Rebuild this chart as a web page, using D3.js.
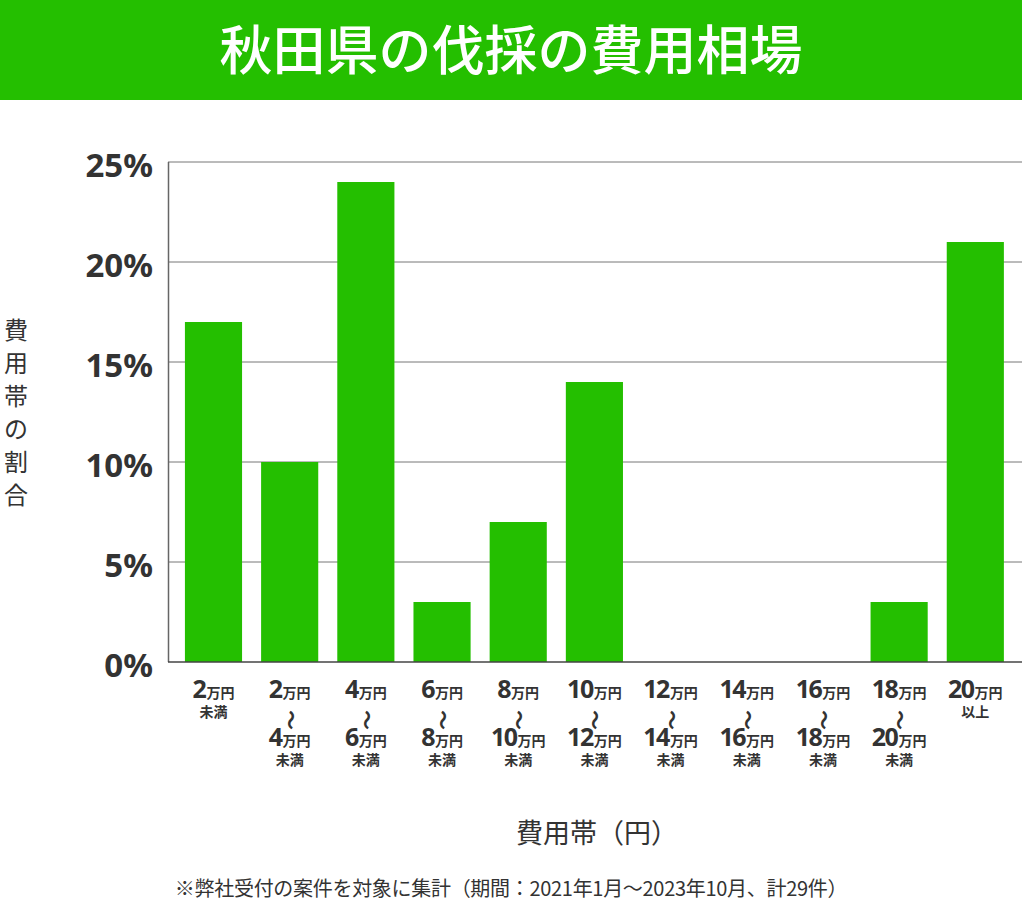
<!DOCTYPE html>
<html><head><meta charset="utf-8">
<script src="https://cdn.jsdelivr.net/npm/d3@7"></script>
<style>body{margin:0;background:#fff}svg{display:block}</style>
</head><body>
<svg id="c" width="1024" height="907"></svg>
<script>
const title = "秋田県の伐採の費用相場";
const lowLabels = ["2", "2", "4", "6", "8", "10", "12", "14", "16", "18", "20"];
const highLabels = [null, "4", "6", "8", "10", "12", "14", "16", "18", "20", null];
const suffixLabels = ["未満", "未満", "未満", "未満", "未満", "未満", "未満", "未満", "未満", "未満", "以上"];
const values = [17, 10, 24, 3, 7, 14, 0, 0, 0, 3, 21];
const yTicks = [0, 5, 10, 15, 20, 25];
const yTitle = ["費", "用", "帯", "の", "割", "合"];
const xTitle = "費用帯（円）";
const footnote = "※弊社受付の案件を対象に集計（期間：2021年1月～2023年10月、計29件）";

const svg = d3.select("#c");
const green = "#24bf00";
const jp = "'Noto Sans CJK JP','Noto Sans',sans-serif";
const num = "'Noto Sans','DejaVu Sans',sans-serif";

svg.append("rect").attr("x",0).attr("y",0).attr("width",1022).attr("height",100).attr("fill",green);
svg.append("text").attr("x",511).attr("y",70).attr("text-anchor","middle")
  .attr("font-family",jp).attr("font-weight",500).attr("font-size",53).attr("fill","#fff").text(title);

const cats = d3.range(values.length);
const x = d3.scaleBand().domain(cats).range([175.4, 1013.4]).paddingInner(0.25).paddingOuter(0.125);
const y = d3.scaleLinear().domain([0,25]).range([662,162]);

// grid
svg.append("g").selectAll("line").data(yTicks.filter(d=>d>0)).join("line")
  .attr("x1",168).attr("x2",1022).attr("y1",d=>y(d)).attr("y2",d=>y(d))
  .attr("stroke","#777").attr("stroke-width",1);

// bars
svg.append("g").selectAll("rect").data(values).join("rect")
  .attr("x",(d,i)=>x(i)).attr("width",x.bandwidth())
  .attr("y",d=>y(d)).attr("height",d=>y(0)-y(d)).attr("fill",green);

// axes lines
svg.append("line").attr("x1",168.5).attr("x2",168.5).attr("y1",y(25)).attr("y2",y(0)).attr("stroke","#666").attr("stroke-width",1.5);
svg.append("line").attr("x1",168).attr("x2",1022).attr("y1",y(0)).attr("y2",y(0)).attr("stroke","#444").attr("stroke-width",1.5);

// y labels
svg.append("g").selectAll("text").data(yTicks).join("text")
  .attr("x",153).attr("y",d=>y(d)+15).attr("text-anchor","end")
  .attr("font-family",num).attr("font-weight","bold").attr("font-size",33).attr("fill","#333")
  .text(d=>d+"%");

// x labels
const xl = svg.append("g").attr("font-family",jp).attr("font-weight","bold").attr("fill","#333");
cats.forEach(i=>{
  const cx = x(i)+x.bandwidth()/2;
  const t1 = xl.append("text").attr("x",cx).attr("y",698).attr("text-anchor","middle");
  t1.append("tspan").attr("font-size",25).attr("font-family",num).attr("letter-spacing",-1.5).text(lowLabels[i]);
  t1.append("tspan").attr("font-size",14).attr("dx",1).text("万円");
  if(highLabels[i]===null){
    xl.append("text").attr("x",cx).attr("y",717).attr("text-anchor","middle").attr("font-size",14).text(suffixLabels[i]);
  } else {
    xl.append("text").attr("transform",`translate(${cx},720) rotate(90)`).attr("text-anchor","middle").attr("dy","0.35em")
      .attr("font-size",20).attr("font-weight","bold").text("〜");
    const t2 = xl.append("text").attr("x",cx).attr("y",746).attr("text-anchor","middle");
    t2.append("tspan").attr("font-size",25).attr("font-family",num).attr("letter-spacing",-1.5).text(highLabels[i]);
    t2.append("tspan").attr("font-size",14).attr("dx",1).text("万円");
    xl.append("text").attr("x",cx).attr("y",765).attr("text-anchor","middle").attr("font-size",14).text(suffixLabels[i]);
  }
});

// y title
svg.append("g").selectAll("text").data(yTitle).join("text")
  .attr("x",16).attr("y",(d,i)=>339+i*33).attr("text-anchor","middle")
  .attr("font-family",jp).attr("font-size",24).attr("fill","#333").text(d=>d);

svg.append("text").attr("x",597).attr("y",843).attr("text-anchor","middle")
  .attr("font-family",jp).attr("font-size",27).attr("fill","#333").text(xTitle);

svg.append("text").attr("x",511).attr("y",896).attr("text-anchor","middle")
  .attr("font-family",jp).attr("font-size",20).attr("letter-spacing",-0.3).attr("fill","#333").text(footnote);
</script>
</body></html>
